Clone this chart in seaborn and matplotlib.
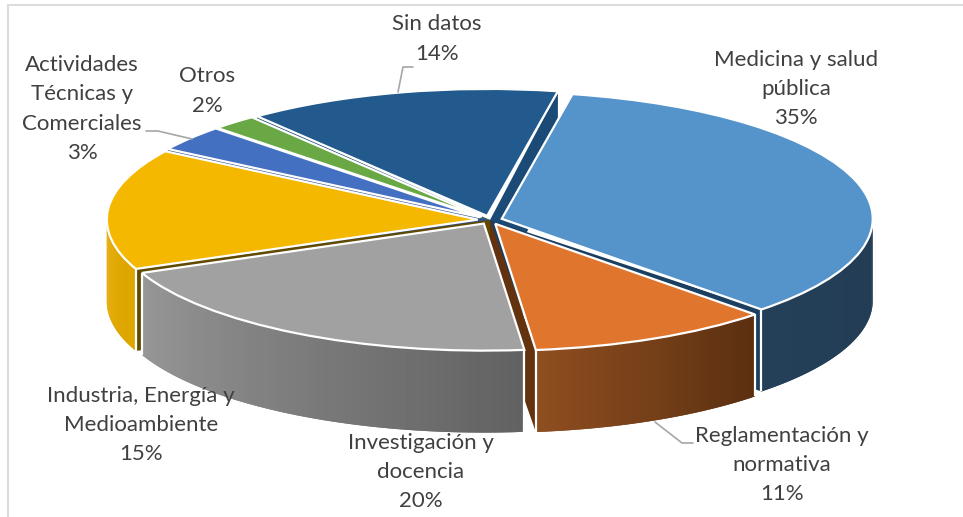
import numpy as np
import matplotlib
matplotlib.use("Agg")
import matplotlib.pyplot as plt
from matplotlib.patches import Rectangle
import seaborn as sns

categories = ["Medicina y salud\npública", "Reglamentación y\nnormativa", "Investigación y\ndocencia",
              "Industria, Energía y\nMedioambiente", "Actividades\nTécnicas y\nComerciales",
              "Otros", "Sin datos"]
# slice sizes, the printed labels are rounded
values = [34.6, 10.6, 20.4, 15.4, 3.3, 2.0, 13.7]
percent_labels = ["35%", "11%", "20%", "15%", "3%", "2%", "14%"]

top_colors = ["#5593cb", "#e0762e", "#a1a1a1", "#f5b800", "#4470c2", "#6aa846", "#235a8d"]
wall_colors = [("#243f58", "#223c54"), ("#8e4e20", "#5a2f10"), ("#979797", "#626262"),
               ("#e6ac00", "#dca500"), ("#2f4f88", "#2f4f88"), ("#4a7631", "#4a7631"), ("#1a4670", "#1a4670")]
cut_colors = ["#1b3f60", "#63330f", "#606060", "#5f4a00", "#2f4f88", "#4a7631", "#1a4a75"]
draw_order = [6, 5, 4, 3, 0, 1, 2]

# pixel geometry of the ellipse
W, H = 963, 517
cx, cy, rx, ry = 490, 220, 371, 127
depth = 82 / ry
explode_r = 0.033
start_deg = 11


def px(x, y):
    return (x - cx) / rx, (cy - y) / ry


sns.set_theme(style="white")
plt.rcParams["font.family"] = ["Lato", "DejaVu Sans"]

fig = plt.figure(figsize=(W / 100, H / 100), dpi=100)
ax = fig.add_axes([0, 0, 1, 1])

wedges, _ = ax.pie(values, explode=[explode_r] * len(values), colors=top_colors,
                   startangle=90 - start_deg, counterclock=False,
                   wedgeprops=dict(edgecolor="white", linewidth=1.6))

ax.set_aspect("auto")
ax.set_xlim(px(0, 0)[0], px(W, 0)[0])
ax.set_ylim(px(0, H)[1], px(0, 0)[1])
ax.axis("off")

# clockwise angles from the top, taken from the values
edges = start_deg + np.cumsum([0] + values) / np.sum(values) * 360

for z, i in enumerate(draw_order):
    a0, a1 = edges[i], edges[i + 1]
    mid = np.radians((a0 + a1) / 2)
    ox, oy = explode_r * np.sin(mid), explode_r * np.cos(mid)
    base = 10 * (z + 1)
    wedges[i].set_zorder(base + 5)

    # radial cut faces that look towards the viewer
    for ang, show in ((a0, np.sin(np.radians(a0)) < 0), (a1, np.sin(np.radians(a1)) > 0)):
        if show:
            t = np.radians(ang)
            ex, ey = ox + np.sin(t), oy + np.cos(t)
            ax.fill([0, ex, ex, 0], [0, ey, ey - depth, -depth],
                    color=cut_colors[i], lw=0, zorder=base + 1)

    # outer wall, front half only
    lo, hi = max(a0, 90), min(a1, 270)
    if hi > lo:
        angs = np.radians(np.linspace(lo, hi, 61))
        xs = ox + np.sin(angs)
        ys = oy + np.cos(angs)
        # shade runs left to right on screen
        shades = sns.blend_palette(list(wall_colors[i]), 60)[::-1]
        for k in range(60):
            # each strip overlaps the next so no seams show
            n = min(k + 2, 60)
            ax.fill([xs[k], xs[n], xs[n], xs[k]],
                    [ys[k], ys[n], ys[n] - depth, ys[k] - depth],
                    facecolor=shades[k], lw=0, zorder=base + 2)
        # white edges of the wall
        for e in (0, -1):
            if (e == 0 and lo == a0) or (e == -1 and hi == a1):
                ax.plot([xs[e], xs[e]], [ys[e], ys[e] - depth], color="white", lw=1.6,
                        solid_capstyle="butt", zorder=base + 3)

# leader lines
leaders = [[(398, 92), (403, 67), (413, 67)],
           [(146, 131), (158, 131), (192, 139)],
           [(655, 422), (682, 443), (693, 443)]]
for pts in leaders:
    lx, ly = zip(*[px(*p) for p in pts])
    ax.plot(lx, ly, color="#a6a6a6", lw=1.2, zorder=200)

# labels
label_centres = [(796, 89), (782, 465), (421, 472), (141, 425), (82, 109), (207, 91), (437, 39)]
for name, pct, (tx, ty) in zip(categories, percent_labels, label_centres):
    x, y = px(tx, ty)
    ax.text(x, y, name + "\n" + pct, ha="center", va="center", fontsize=16,
            color="#404040", linespacing=1.58, zorder=300)

# chart frame
fig.add_artist(Rectangle((8 / W, -0.01), (W + 10) / W, 1 - 5 / H + 0.01, transform=fig.transFigure,
                         fill=False, edgecolor="#dcdcdc", lw=1.5))

fig.savefig("out.png", dpi=100)
